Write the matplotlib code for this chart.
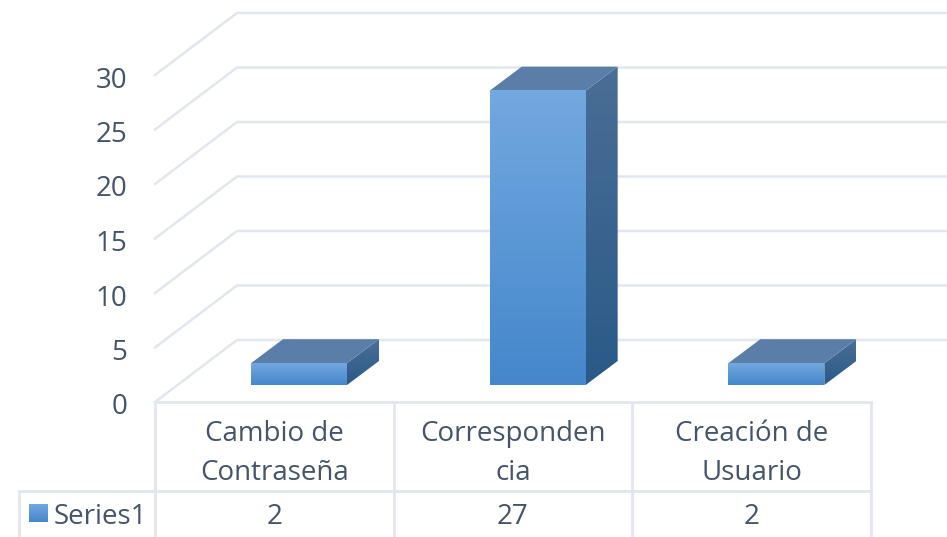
import matplotlib
matplotlib.use('Agg')
import matplotlib.pyplot as plt
import numpy as np
from matplotlib.colors import LinearSegmentedColormap
from matplotlib.patches import Polygon
from matplotlib.transforms import ScaledTranslation

categorias = ['Cambio de\nContraseña', 'Corresponden\ncia', 'Creación de\nUsuario']
valores = [2, 27, 2]
serie = 'Series1'
yticks = [0, 5, 10, 15, 20, 25, 30]

W, H = 947, 537
# plano frontal en pixeles
X0, X1, Y0, Y30 = 155, 871, 402, 75
TXT = '#44546A'
GRID = '#E2E6EE'
FS = 20

plt.rcParams['font.family'] = ['Open Sans', 'DejaVu Sans']
fig = plt.figure(figsize=(W / 100, H / 100), dpi=100)
ax = fig.add_axes([X0 / W, 1 - Y0 / H, (X1 - X0) / W, (Y0 - Y30) / H])
ax.set_xlim(0, 3)
ax.set_ylim(0, 30)
for s in ax.spines.values():
    s.set_visible(False)

ux = (X1 - X0) / 3.0   # px por categoria
uy = (Y0 - Y30) / 30.0  # px por unidad
dx_w, dy_w = 82 / ux, 62 / uy   # fondo de la pared
dx_b, dy_b = 32 / ux, 24 / uy   # profundidad de barra
x_fin = (W + 5 - X0) / ux

# rejilla
for t in yticks:
    ax.plot([0, dx_w, x_fin], [t, t + dy_w, t + dy_w], color=GRID, lw=1.8, clip_on=False, zorder=1)

ax.set_yticks(yticks)
ax.set_yticklabels([str(t) for t in yticks], fontsize=FS, color=TXT)
ax.tick_params(axis='y', length=0, pad=20)
baja = ScaledTranslation(0, -2 / 100, fig.dpi_scale_trans)
for lab in ax.get_yticklabels():
    lab.set_transform(lab.get_transform() + baja)
ax.set_xticks([i + 0.5 for i in range(3)])
ax.set_xticklabels(categorias, fontsize=FS, color=TXT, linespacing=1.52)
ax.tick_params(axis='x', length=0, pad=13)

cm_frente = LinearSegmentedColormap.from_list('frente', ['#73A8E0', '#4487CB'])
cm_lado = LinearSegmentedColormap.from_list('lado', ['#4A6E96', '#2A5A88'])
grad = np.linspace(0, 1, 64).reshape(-1, 1)

base = 17 / uy  # la barra se despega del suelo frontal
ancho = 96 / ux
inicio = 96 / ux
for i, v in enumerate(valores):
    xl = i + inicio
    xr = xl + ancho
    yb, yt = base, base + v
    # cara lateral
    lado = Polygon([(xr, yb), (xr + dx_b, yb + dy_b), (xr + dx_b, yt + dy_b), (xr, yt)],
                   fc='none', ec='none', transform=ax.transData, clip_on=False)
    ax.add_patch(lado)
    im = ax.imshow(grad, cmap=cm_lado, aspect='auto', origin='upper', zorder=3,
                   extent=(xr, xr + dx_b, yb, yt + dy_b))
    im.set_clip_box(fig.bbox)
    im.set_clip_path(lado)
    # cara superior
    ax.add_patch(Polygon([(xl, yt), (xr, yt), (xr + dx_b, yt + dy_b), (xl + dx_b, yt + dy_b)],
                         fc='#5A7EA8', ec='none', zorder=3, clip_on=False))
    # cara frontal
    im = ax.imshow(grad, cmap=cm_frente, aspect='auto', origin='upper', zorder=4,
                   extent=(xl, xr, yb, yt))
    im.set_clip_on(False)
ax.set_xlim(0, 3)
ax.set_ylim(0, 30)

# tabla de datos
y_fila = -(491 - Y0) / uy
y_fin = -(H + 5 - Y0) / uy
x_izq = (19 - X0) / ux
ax.plot([0, 3], [0, 0], color=GRID, lw=2, clip_on=False, zorder=2)
ax.plot([x_izq, 3], [y_fila, y_fila], color=GRID, lw=2, clip_on=False, zorder=2)
for xv in range(4):
    ax.plot([xv, xv], [0, y_fin], color=GRID, lw=2, clip_on=False, zorder=2)
ax.plot([x_izq, x_izq], [y_fila, y_fin], color=GRID, lw=2, clip_on=False, zorder=2)

y_txt = -(517 - Y0) / uy
for i, v in enumerate(valores):
    ax.text(i + 0.5, y_txt, str(v), ha='center', va='center', fontsize=FS, color=TXT, clip_on=False)
ax.text((54 - X0) / ux, y_txt, serie, ha='left', va='center', fontsize=FS, color=TXT, clip_on=False)

# clave de leyenda
lx0, lx1 = (29 - X0) / ux, (48 - X0) / ux
ly0, ly1 = -(522 - Y0) / uy, -(505 - Y0) / uy
im = ax.imshow(grad, cmap=cm_frente, aspect='auto', origin='upper', zorder=4, extent=(lx0, lx1, ly0, ly1))
im.set_clip_on(False)
ax.set_xlim(0, 3)
ax.set_ylim(0, 30)

fig.savefig('out.png', dpi=100)
